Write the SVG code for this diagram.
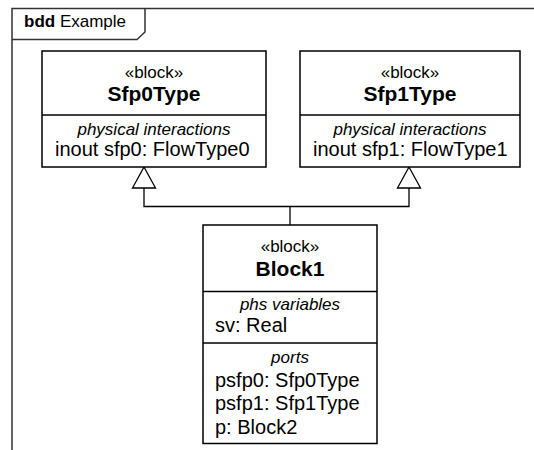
<svg xmlns="http://www.w3.org/2000/svg" width="534" height="450" viewBox="0 0 534 450">
<style>
text{font-family:"Liberation Sans",Arial,sans-serif;fill:#000}
.box{fill:#fff;stroke:#000;stroke-width:1.5}
.div{stroke:#000;stroke-width:1.5}
.st{font-size:17px;text-anchor:middle}
.nm{font-size:21px;font-weight:bold;text-anchor:middle}
.ct{font-size:17px;font-style:italic;text-anchor:middle}
.en{font-size:20px}
.frame{fill:none;stroke:#333;stroke-width:1.5}
.conn{fill:none;stroke:#000;stroke-width:1.3}
.tri{fill:#fff;stroke:#000;stroke-width:1.3}
</style>
<rect width="534" height="450" fill="#fff"/>
<g id="frame">
<rect class="frame" x="12" y="8.5" width="700" height="600"/>
<path class="frame" d="M12,39.5 H137 L145,32 V8.5"/>
<text x="24" y="27" font-size="17"><tspan font-weight="bold">bdd</tspan> Example</text>
</g>
<g id="connectors">
<path class="conn" d="M144,188 V206.5 H409 V188 M290,206.5 V225"/>
<polygon class="tri" points="144,167 132.5,188 155.5,188"/>
<polygon class="tri" points="409,167 397.5,188 420.5,188"/>
</g>
<g id="Sfp0Type">
<rect class="box" x="42" y="51" width="224" height="116"/>
<line class="div" x1="42" y1="115" x2="266" y2="115"/>
<text class="st" x="154" y="77.5">«block»</text>
<text class="nm" x="154" y="101">Sfp0Type</text>
<text class="ct" x="154" y="134.5">physical interactions</text>
<text class="en" x="55" y="156">inout sfp0: FlowType0</text>
</g>
<g id="Sfp1Type">
<rect class="box" x="300" y="51" width="220" height="116"/>
<line class="div" x1="300" y1="115" x2="520" y2="115"/>
<text class="st" x="410" y="77.5">«block»</text>
<text class="nm" x="410" y="101">Sfp1Type</text>
<text class="ct" x="410" y="134.5">physical interactions</text>
<text class="en" x="313" y="156">inout sfp1: FlowType1</text>
</g>
<g id="Block1">
<rect class="box" x="203" y="225" width="174" height="218.5"/>
<line class="div" x1="203" y1="291.5" x2="377" y2="291.5"/>
<line class="div" x1="203" y1="343" x2="377" y2="343"/>
<text class="st" x="290" y="252">«block»</text>
<text class="nm" x="290" y="276">Block1</text>
<text class="ct" x="290" y="310">phs variables</text>
<text class="en" x="215" y="332">sv: Real</text>
<text class="ct" x="290" y="363">ports</text>
<text class="en" x="215" y="386.5">psfp0: Sfp0Type</text>
<text class="en" x="215" y="410">psfp1: Sfp1Type</text>
<text class="en" x="215" y="433.5">p: Block2</text>
</g>
</svg>
